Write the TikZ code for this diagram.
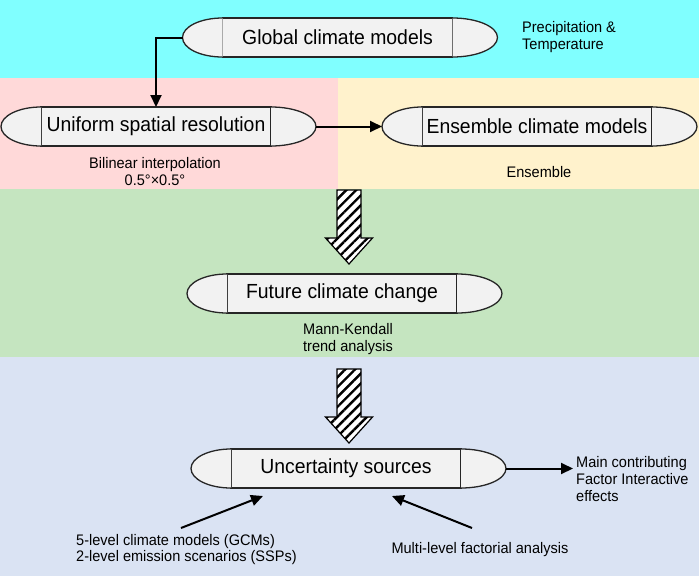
\documentclass[tikz,border=0pt]{standalone}
\usepackage{fontspec}
\setmainfont{Liberation Sans}
\newfontfamily\narrowfont[FakeStretch = 0.95]{Liberation Sans}
\usepackage{tikz}
\usetikzlibrary{arrows.meta, patterns.meta}

\definecolor{topband}{RGB}{128,255,255}
\definecolor{leftband}{RGB}{255,217,217}
\definecolor{rightband}{RGB}{255,242,204}
\definecolor{midband}{RGB}{197,229,192}
\definecolor{lowband}{RGB}{218,227,243}
\definecolor{boxfill}{RGB}{242,242,242}
\definecolor{boxline}{RGB}{38,38,38}

\tikzset{
  capmid/.style = {draw = boxline, fill = boxfill, line width = 1.3pt, outer sep = 0pt, inner sep = 0pt,
                   minimum width = 230pt, minimum height = 39pt, font = \narrowfont\fontsize{20.4}{24}\selectfont},
  capend/.style = {draw = boxline, fill = boxfill, line width = 1.3pt},
  note/.style = {inner sep = 3pt, font = \narrowfont\fontsize{15.3}{17}\selectfont},
  link/.style = {line width = 2pt, -{Triangle[length = 12pt, width = 11pt]}},
  hatch/.style = {draw = black, line width = 1.2pt, fill = white,
                  postaction = {pattern = {Lines[angle = 45, distance = 7pt, line width = 2.4pt]}}}
}

\newcommand{\capends}[1]{%
  \draw[capend] (#1.north west) arc[start angle = 90, end angle = 270, x radius = 40pt, y radius = 19.5pt];
  \draw[capend] (#1.south east) arc[start angle = -90, end angle = 90, x radius = 45pt, y radius = 19.5pt];
  \coordinate (#1-l) at ([xshift = -40pt]#1.west);
  \coordinate (#1-r) at ([xshift = 45pt]#1.east);
}

\begin{document}
\begin{tikzpicture}[x = 1pt, y = -1pt]
\useasboundingbox (0, 0) rectangle (699, 576);

\fill[topband]   (0, 0)     rectangle (699, 78);
\fill[leftband]  (0, 78)    rectangle (338, 189);
\fill[rightband] (338, 78)  rectangle (699, 189);
\fill[midband]   (0, 189)   rectangle (699, 357);
\fill[lowband]   (0, 357)   rectangle (699, 576);

\node[capmid] at (337.5, 37.5) (gcm) {Global climate models};
\node[capmid] at (156, 126.5) (usr)  {Uniform spatial resolution};
\node[capmid] at (537, 126.5) (ens)  {Ensemble climate models};
\node[capmid] at (342, 293.5) (fcc)  {Future climate change};
\node[capmid] at (346, 468.5) (unc)  {Uncertainty sources};

\capends{gcm}
\capends{usr}
\capends{ens}
\capends{fcc}
\capends{unc}

\node[note, align = left, anchor = west] at (519, 37) (prec)   {Precipitation \&\\Temperature};
\node[note, align = center] at (155, 171.5) (bil)              {Bilinear interpolation\\0.5°×0.5°};
\node[note] at (539, 172) (ensl)                               {Ensemble};
\node[note, align = center] at (348, 339) (mk)                 {Mann-Kendall\\trend analysis};
\node[note, align = left, anchor = west] at (573, 479.5) (mcf) {Main contributing\\Factor Interactive\\effects};
\node[note, align = left, anchor = west, font = \narrowfont\fontsize{15.3}{15.5}\selectfont] at (73, 549.5) (lvl)
     {5-level climate models (GCMs)\\2-level emission scenarios (SSPs)};
\node[note] at (480, 550) (mfa)                                {Multi-level factorial analysis};

\foreach \t in {190, 369}
  \draw[hatch] (337, \t) -- (361, \t) -- (361, \t + 48) -- (372.5, \t + 48) -- (349, \t + 74)
               -- (325.5, \t + 48) -- (337, \t + 48) -- cycle;

\coordinate (out1) at (181, 528);
\coordinate (in1)  at (263, 496);
\coordinate (out2) at (472, 528);
\coordinate (in2)  at (392, 496);

\draw[link] (gcm-l) -| (usr.north);
\draw[link] (usr-r) -- (ens-l);
\draw[link] (unc-r) -- (unc-r -| mcf.west);
\draw[link] (out1) -- (in1);
\draw[link] (out2) -- (in2);

\end{tikzpicture}
\end{document}
